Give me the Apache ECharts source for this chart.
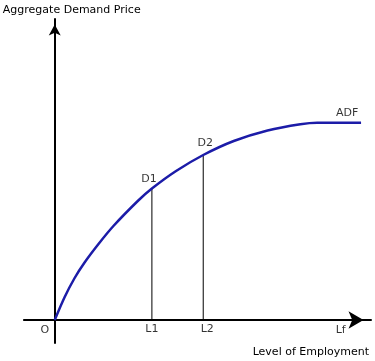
<!DOCTYPE html>
<html>
<head>
<meta charset="utf-8">
<script src="https://cdn.jsdelivr.net/npm/echarts@6/dist/echarts.min.js"></script>
<style>html,body{margin:0;padding:0;background:#fff}#c{width:375px;height:361px}</style>
</head>
<body>
<div id="c"></div>
<script>
// Aggregate demand function (ADF) curve
const curveX = [0, 10, 20, 30, 44, 59, 84, 97.7, 122, 149.3, 180, 214, 247, 264, 308];
const curveY = [0, 23, 42, 57.5, 76, 94, 119.5, 131.5, 149, 165, 179, 189.5, 195.8, 197.3, 197.3];
// employment levels with drop lines
const levelX = [97.7, 149.3];
const levelY = [131.5, 165];
const levelNames = ['L1', 'L2'];
const pointNames = ['D1', 'D2'];
const fullEmploymentX = 287.5;
const fullEmploymentName = 'Lf';
const originName = 'O';
const curveName = 'ADF';
const xTitle = 'Level of Employment';
const yTitle = 'Aggregate Demand Price';

const font = {fontFamily: 'DejaVu Sans', fontSize: 11, color: '#000'};
const chart = echarts.init(document.getElementById('c'), null, {renderer: 'canvas'});

const curveData = curveX.map((x, i) => [x, curveY[i]]);
const lastPt = curveData[curveData.length - 1];

function lbl(value, text, offset) {
  return {value: value, label: Object.assign({show: true, position: 'inside', offset: offset, formatter: text}, font)};
}

const labelData = [
  lbl([0, 0], originName, [-10, 10.5]),
  lbl([levelX[0], 0], levelNames[0], [0, 9]),
  lbl([levelX[1], 0], levelNames[1], [4, 9]),
  lbl([fullEmploymentX, 0], fullEmploymentName, [0, 10]),
  lbl([levelX[0], levelY[0]], pointNames[0], [-3, -9.5]),
  lbl([levelX[1], levelY[1]], pointNames[1], [2, -11.5]),
  lbl(lastPt, curveName, [-14, -10])
];

const series = [];
levelX.forEach((x, i) => {
  series.push({
    type: 'line', data: [[x, 0], [x, levelY[i]]], symbol: 'none', silent: true,
    lineStyle: {color: '#000', width: 1}, z: 2
  });
});
series.push({
  type: 'line', name: curveName, data: curveData, smooth: 0.3, symbol: 'none',
  lineStyle: {color: '#1c1ca8', width: 2.5}, z: 3
});
series.push({
  type: 'scatter', data: labelData, symbolSize: 0, itemStyle: {color: 'transparent'}, silent: true, z: 4
});

chart.setOption({
  animation: false,
  grid: {left: 22, right: 4, top: 19, bottom: 18, containLabel: false},
  xAxis: {
    type: 'value', min: -31, max: 318,
    name: xTitle, nameLocation: 'end', nameGap: -2,
    nameTextStyle: Object.assign({align: 'right', verticalAlign: 'top', padding: [27, 0, 0, 0]}, font),
    axisLine: {onZero: true, lineStyle: {color: '#000', width: 2}, symbol: ['none', 'arrow'], symbolSize: [13, 15], symbolOffset: [0, -7.5]},
    axisTick: {show: false}, axisLabel: {show: false}, splitLine: {show: false}
  },
  yAxis: {
    type: 'value', min: -23, max: 301,
    name: yTitle, nameLocation: 'end', nameGap: 3,
    nameTextStyle: Object.assign({align: 'center', verticalAlign: 'bottom', padding: [0, 0, 0, 34]}, font),
    axisLine: {onZero: true, lineStyle: {color: '#000', width: 2}, symbol: ['none', 'arrow'], symbolSize: [9, 11], symbolOffset: [0, -5.5]},
    axisTick: {show: false}, axisLabel: {show: false}, splitLine: {show: false}
  },
  series: series
});
</script>
</body>
</html>
